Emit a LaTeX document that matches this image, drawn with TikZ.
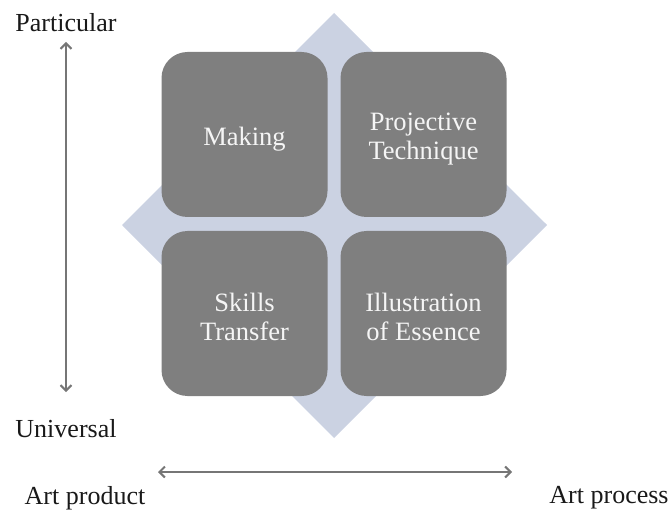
\documentclass[tikz,border=0pt]{standalone}
\usepackage{fontspec}
\setmainfont{Liberation Serif}
\usetikzlibrary{arrows.meta}
\definecolor{diam}{RGB}{203,210,226}
\definecolor{boxgray}{RGB}{127,127,127}
\definecolor{boxtext}{RGB}{245,245,245}
\definecolor{axis}{RGB}{118,118,118}
\definecolor{lbl}{RGB}{25,25,25}
\tikzset{
  quad/.style={fill=boxgray, rounded corners=26pt, minimum width=166pt, minimum height=165pt,
    inner sep=0pt},
  quadtext/.style={align=center, text=boxtext, font=\fontsize{26.5}{29}\selectfont, inner sep=0pt},
  axislbl/.style={text=lbl, font=\fontsize{26}{29}\selectfont, inner sep=0pt},
  axisarrow/.style={draw=axis, line width=2pt, {Straight Barb[length=5.5pt,width=11pt]}-{Straight Barb[length=5.5pt,width=11pt]}}
}
\begin{document}
\begin{tikzpicture}[x=1pt,y=-1pt]
\useasboundingbox (0,0) rectangle (671,510);
% diamond
\fill[diam] (334,13) -- (547,225) -- (334,438) -- (122,225) -- cycle;
% boxes
\node[quad] (making) at (244.5,134.5) {};
\node[quad] (proj) at (423.5,134.5) {};
\node[quad] (skills) at (244.5,313.5) {};
\node[quad] (illus) at (423.5,313.5) {};
\node[quadtext] (makingtxt) at ([yshift=-5pt]making.center) {Making};
\node[quadtext] (projtxt) at ([yshift=-5pt]proj.center) {Projective\\Technique};
\node[quadtext] (skillstxt) at ([yshift=-3pt]skills.center) {Skills\\Transfer};
\node[quadtext] (illustxt) at ([yshift=-3pt]illus.center) {Illustration\\of Essence};
% vertical axis
\node[axislbl] (part) at (66,23) {Particular};
\node[axislbl] (univ) at (66,429) {Universal};
\coordinate (vtop) at (66,42);
\coordinate (vbot) at (66,392);
\draw[axisarrow] (vtop) -- (vbot);
% horizontal axis
\node[axislbl] (prod) at (85,498) {Art product};
\node[axislbl] (proc) at (609,498) {Art process};
\coordinate (hleft) at (158,472);
\coordinate (hright) at (512,472);
\draw[axisarrow] (hleft) -- (hright);
\end{tikzpicture}
\end{document}
